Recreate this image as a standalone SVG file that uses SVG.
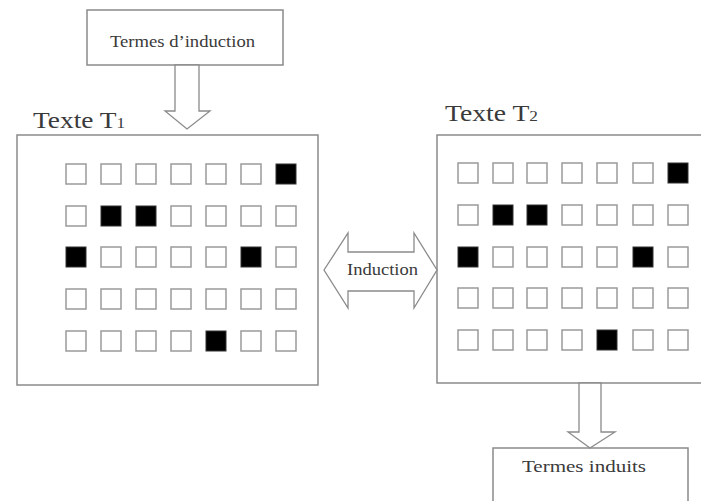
<svg xmlns="http://www.w3.org/2000/svg" width="701" height="501" viewBox="0 0 701 501">
<style>
.box{fill:#fff;stroke:#8a8a8a;stroke-width:1.5}
.arr{fill:#fff;stroke:#8a8a8a;stroke-width:1.3}
.c{fill:#fff;stroke:#9a9a9a;stroke-width:1.5}
.f{fill:#000;stroke:#333;stroke-width:1}
.t{font-family:"Liberation Serif","Times New Roman",serif;fill:#3a3a3a}
</style>
<defs>
<rect id="e" class="c" x="-10" y="-10" width="20" height="20"/>
<rect id="k" class="f" x="-10" y="-10" width="20" height="20"/>
</defs>
<rect width="701" height="501" fill="#fff"/>
<g id="termes-induction">
<rect class="box" x="87" y="10" width="196" height="55"/>
<text class="t" x="110" y="47" font-size="16" textLength="145" lengthAdjust="spacingAndGlyphs">Termes d’induction</text>
</g>
<g id="texte-t1">
<rect class="box" x="17" y="135" width="301" height="250"/>
<text class="t" x="33" y="128" font-size="24" textLength="92" lengthAdjust="spacingAndGlyphs">Texte T<tspan font-size="15">1</tspan></text>
<g transform="translate(76,174)">
<use href="#e" x="0" y="0"/><use href="#e" x="35" y="0"/><use href="#e" x="70" y="0"/><use href="#e" x="105" y="0"/><use href="#e" x="140" y="0"/><use href="#e" x="175" y="0"/><use href="#k" x="210" y="0"/>
<use href="#e" x="0" y="42"/><use href="#k" x="35" y="42"/><use href="#k" x="70" y="42"/><use href="#e" x="105" y="42"/><use href="#e" x="140" y="42"/><use href="#e" x="175" y="42"/><use href="#e" x="210" y="42"/>
<use href="#k" x="0" y="83"/><use href="#e" x="35" y="83"/><use href="#e" x="70" y="83"/><use href="#e" x="105" y="83"/><use href="#e" x="140" y="83"/><use href="#k" x="175" y="83"/><use href="#e" x="210" y="83"/>
<use href="#e" x="0" y="125"/><use href="#e" x="35" y="125"/><use href="#e" x="70" y="125"/><use href="#e" x="105" y="125"/><use href="#e" x="140" y="125"/><use href="#e" x="175" y="125"/><use href="#e" x="210" y="125"/>
<use href="#e" x="0" y="167"/><use href="#e" x="35" y="167"/><use href="#e" x="70" y="167"/><use href="#e" x="105" y="167"/><use href="#k" x="140" y="167"/><use href="#e" x="175" y="167"/><use href="#e" x="210" y="167"/>
</g>
</g>
<g id="texte-t2">
<rect class="box" x="437" y="135" width="280" height="248"/>
<text class="t" x="445" y="121" font-size="24" textLength="93" lengthAdjust="spacingAndGlyphs">Texte T<tspan font-size="15">2</tspan></text>
<g transform="translate(468,173)">
<use href="#e" x="0" y="0"/><use href="#e" x="35" y="0"/><use href="#e" x="69" y="0"/><use href="#e" x="104" y="0"/><use href="#e" x="139" y="0"/><use href="#e" x="175" y="0"/><use href="#k" x="210" y="0"/>
<use href="#e" x="0" y="42"/><use href="#k" x="35" y="42"/><use href="#k" x="69" y="42"/><use href="#e" x="104" y="42"/><use href="#e" x="139" y="42"/><use href="#e" x="175" y="42"/><use href="#e" x="210" y="42"/>
<use href="#k" x="0" y="84"/><use href="#e" x="35" y="84"/><use href="#e" x="69" y="84"/><use href="#e" x="104" y="84"/><use href="#e" x="139" y="84"/><use href="#k" x="175" y="84"/><use href="#e" x="210" y="84"/>
<use href="#e" x="0" y="125"/><use href="#e" x="35" y="125"/><use href="#e" x="69" y="125"/><use href="#e" x="104" y="125"/><use href="#e" x="139" y="125"/><use href="#e" x="175" y="125"/><use href="#e" x="210" y="125"/>
<use href="#e" x="0" y="167"/><use href="#e" x="35" y="167"/><use href="#e" x="69" y="167"/><use href="#e" x="104" y="167"/><use href="#k" x="139" y="167"/><use href="#e" x="175" y="167"/><use href="#e" x="210" y="167"/>
</g>
</g>
<g id="termes-induits">
<rect class="box" x="493" y="448" width="195" height="60"/>
<text class="t" x="522" y="472" font-size="17" textLength="124" lengthAdjust="spacingAndGlyphs">Termes induits</text>
</g>
<g id="connectors">
<path class="arr" d="M175,65 L199,65 L199,111 L210,111 L187,129 L165,111 L175,111 Z"/>
<path class="arr" d="M324,270 L348,233 L348,252 L414,252 L414,233 L437,270 L414,308 L414,291 L348,291 L348,308 Z"/>
<text class="t" x="347" y="275" font-size="16" textLength="71" lengthAdjust="spacingAndGlyphs">Induction</text>
<path class="arr" d="M579,383 L601,383 L601,432 L615,432 L590,448 L568,432 L579,432 Z"/>
</g>
</svg>
